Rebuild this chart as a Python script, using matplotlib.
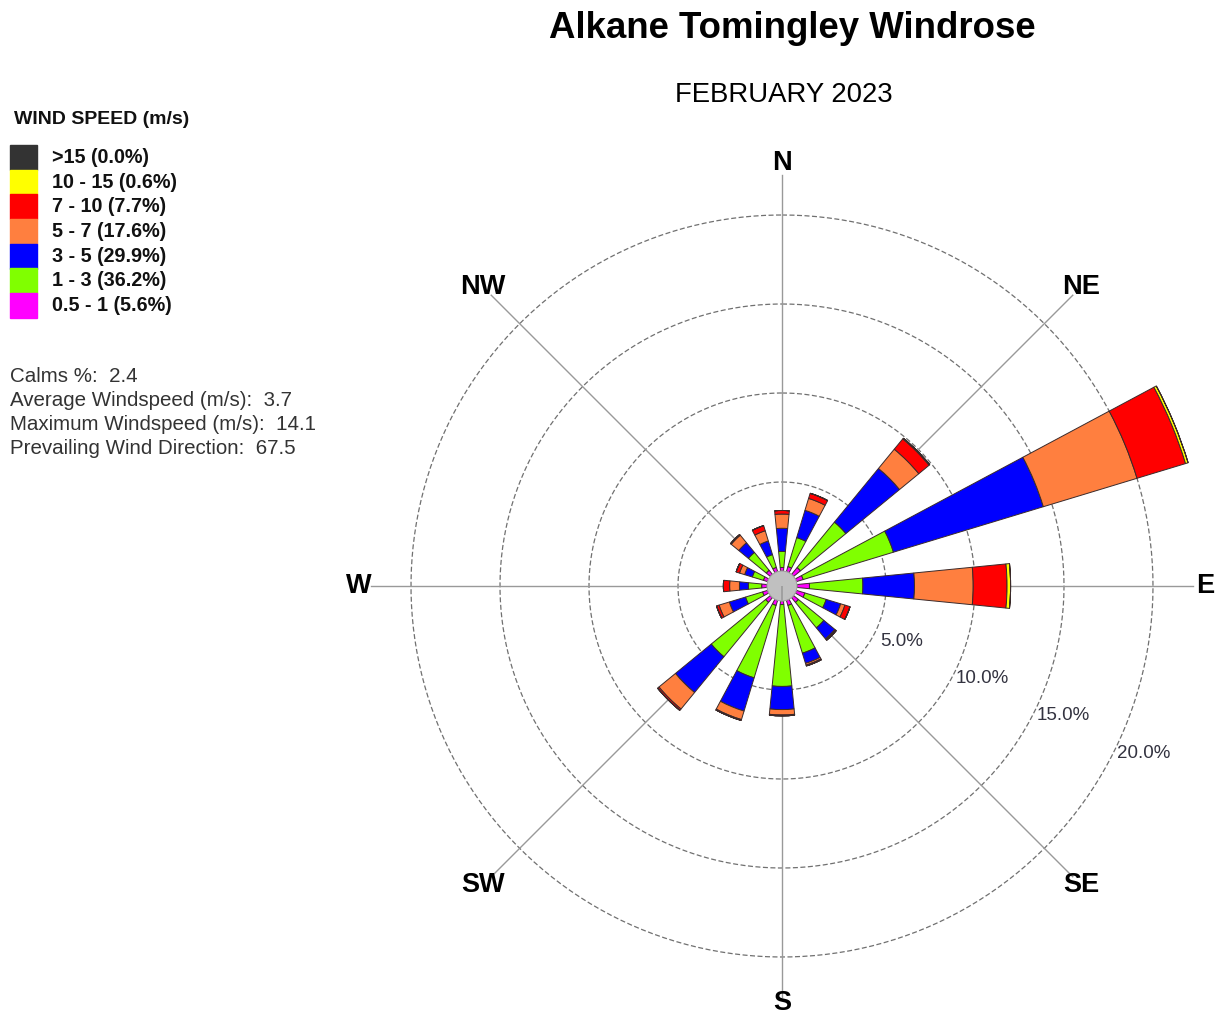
import numpy as np
import matplotlib
matplotlib.use("Agg")
import matplotlib.pyplot as plt

plt.rcParams['font.family'] = ['Liberation Sans', 'DejaVu Sans']

# ======== Data ========

directions = ["N", "NNE", "NE", "ENE", "E", "ESE", "SE", "SSE",
              "S", "SSW", "SW", "WSW", "W", "WNW", "NW", "NNW"]
bearings = np.arange(16) * 22.5

# frequency (%) per direction for each speed class
spd_05_1 = [0.2, 0.3, 0.5, 0.4, 0.7, 0.5, 0.35, 0.3, 0.2, 0.3, 0.35, 0.3, 0.3, 0.25, 0.3, 0.25]
spd_1_3 = [0.9, 1.7, 3.3, 5.3, 3.0, 1.25, 1.85, 2.8, 4.6, 4.25, 3.95, 1.0, 0.75, 0.65, 1.3, 0.75]
spd_3_5 = [1.3, 1.6, 3.9, 8.8, 2.9, 0.85, 0.8, 0.6, 1.3, 1.95, 2.6, 0.95, 0.5, 0.45, 0.7, 0.8]
spd_5_7 = [0.8, 0.7, 1.4, 5.5, 3.3, 0.25, 0.05, 0.1, 0.3, 0.5, 1.2, 0.6, 0.55, 0.3, 0.55, 0.6]
spd_7_10 = [0.2, 0.3, 0.75, 2.85, 1.9, 0.3, 0.05, 0.05, 0.05, 0.05, 0.1, 0.15, 0.35, 0.2, 0.05, 0.3]
spd_10_15 = [0.0, 0.0, 0.05, 0.15, 0.2, 0.0, 0.0, 0.0, 0.0, 0.0, 0.0, 0.0, 0.0, 0.0, 0.0, 0.0]
spd_15_up = [0.0] * 16

class_labels = [">15 (0.0%)", "10 - 15 (0.6%)", "7 - 10 (7.7%)", "5 - 7 (17.6%)",
                "3 - 5 (29.9%)", "1 - 3 (36.2%)", "0.5 - 1 (5.6%)"]
class_colors = ["#333333", "#FFFF00", "#FF0000", "#FF7F3F", "#0000FF", "#80FF00", "#FF00FF"]

ring_values = [5, 10, 15, 20]
compass_labels = ["N", "NE", "E", "SE", "S", "SW", "W", "NW"]

stats_lines = ["Calms %:  2.4",
               "Average Windspeed (m/s):  3.7",
               "Maximum Windspeed (m/s):  14.1",
               "Prevailing Wind Direction:  67.5"]

# ======== Plot ========

W, H = 1218, 1017
px_per_pct = 17.8
calm_r = 15 / px_per_pct
rmax = 24.5
cx, cy = 782, 586


def fx(x):
    return x / W


def fy(y):
    return 1 - y / H


fig = plt.figure(figsize=(W / 100, H / 100), dpi=100)
R = rmax * px_per_pct
ax = fig.add_axes([fx(cx - R), fy(cy + R), 2 * R / W, 2 * R / H], projection='polar')
ax.set_theta_zero_location('N')
ax.set_theta_direction(-1)
ax.set_ylim(0, rmax)
ax.set_axis_off()

theta = np.deg2rad(bearings)
width = np.deg2rad(11.25)

# rings and compass lines
circ = np.linspace(0, 2 * np.pi, 400)
for v in ring_values:
    ax.plot(circ, np.full_like(circ, calm_r + v), color="#707070", lw=0.9,
            ls=(0, (4, 2)), zorder=1)
for i, lab in enumerate(compass_labels):
    t = np.deg2rad(i * 45)
    ax.plot([t, t], [0, 23.1], color="#999999", lw=1.0, zorder=1)
    # S label sits a touch closer so it stays inside the figure
    r_lab = 23.45 if lab == "S" else 23.75
    ax.text(t, r_lab, lab, ha='center', va='center', fontsize=19.5,
            fontweight='bold', clip_on=False)

for v in ring_values:
    ax.text(np.deg2rad(114.8), calm_r + v + 1.55, f"{v:.1f}%", ha='center',
            va='center', fontsize=13.5, color="#333340")

# stacked bars, from lowest class outward
series = [spd_05_1, spd_1_3, spd_3_5, spd_5_7, spd_7_10, spd_10_15, spd_15_up]
colors_in = class_colors[::-1]
bottom = np.full(16, calm_r)
for vals, col in zip(series, colors_in):
    vals = np.array(vals)
    ax.bar(theta, vals, width=width, bottom=bottom, color=col,
           edgecolor="#3a2a2a", linewidth=0.7, zorder=3)
    bottom = bottom + vals

# calm circle
ax.bar(0, calm_r, width=2 * np.pi, bottom=0, color="#C0C0C0",
       edgecolor="#A0A0A0", linewidth=0.8, zorder=4)

# titles
fig.text(fx(792), fy(28), "Alkane Tomingley Windrose", ha='center', va='center',
         fontsize=26.4, fontweight='bold')
fig.text(fx(784), fy(95), "FEBRUARY 2023", ha='center', va='center', fontsize=19.8)

# legend
fig.text(fx(14), fy(119), "WIND SPEED (m/s)", ha='left', va='center',
         fontsize=14, fontweight='bold', color="#111111")
box_top = 145
box_h = 24.7
for i, (lab, col) in enumerate(zip(class_labels, class_colors)):
    y0 = box_top + i * box_h
    fig.patches.append(plt.Rectangle((fx(10), fy(y0 + box_h)), 27 / W, box_h / H,
                                     transform=fig.transFigure, color=col))
    fig.text(fx(52), fy(y0 + box_h / 2), lab, ha='left', va='center',
             fontsize=14.2, fontweight='bold', color="#111111")

for i, line in enumerate(stats_lines):
    fig.text(fx(10), fy(377 + i * 24), line, ha='left', va='center',
             fontsize=14.8, color="#333333")

fig.savefig("out.png", dpi=100)
